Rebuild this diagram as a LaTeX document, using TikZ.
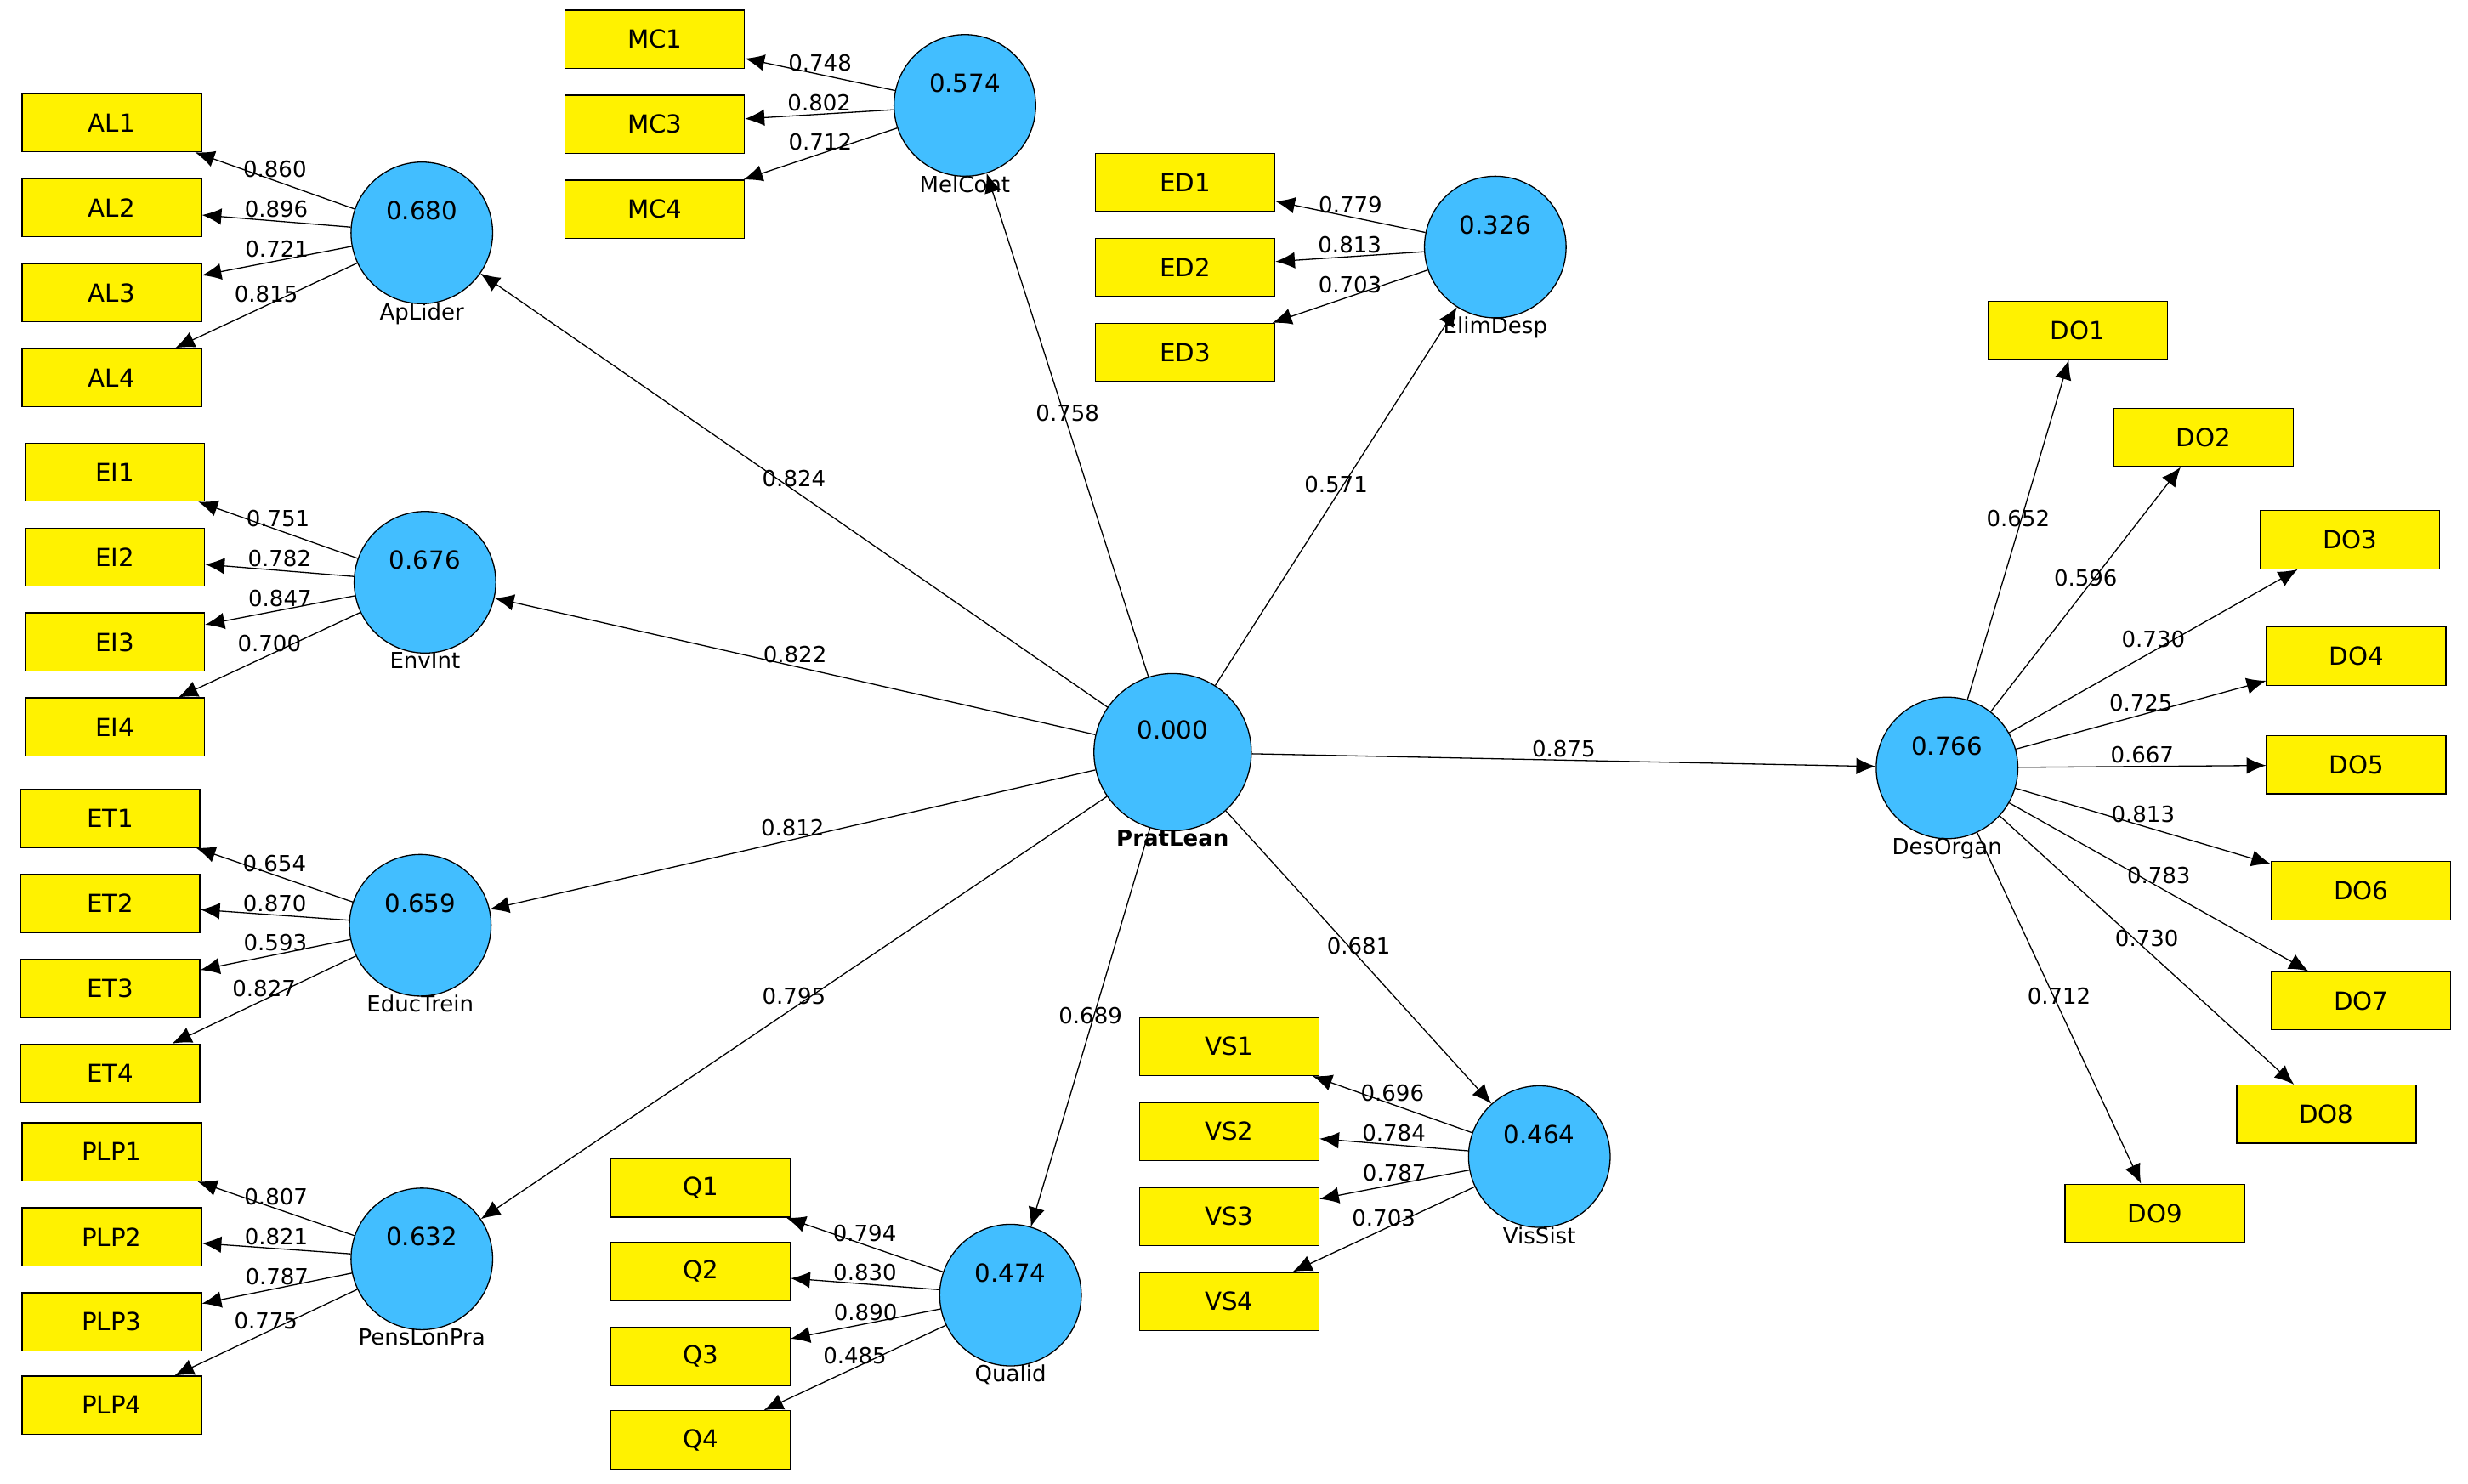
\documentclass[tikz,border=0pt]{standalone}
\usepackage{fontspec}
\setmainfont{DejaVu Sans}
\usetikzlibrary{arrows.meta}
\definecolor{lvblue}{RGB}{66,190,255}
\tikzset{
  lv/.style={circle,draw=black,fill=lvblue,minimum size=1.8cm,inner sep=0pt},
  ind/.style={draw=black,fill=yellow,minimum width=2.28cm,minimum height=0.74cm,font=\small},
  arr/.style={-{Latex[length=7pt,width=6pt]},black},
  lbl/.style={midway,above,inner sep=1pt,font=\footnotesize},
}
\begin{document}
\begin{tikzpicture}[x=0.02cm,y=-0.02cm]
	\useasboundingbox (0,0) rectangle (1568,943);
	% latent variables
	\foreach \n/\xx/\yy/\v in {ApLider/268/148/0.680, EnvInt/270/370/0.676, EducTrein/267/588/0.659,
	  PensLonPra/268/800/0.632, MelCont/613/67/0.574, ElimDesp/950/157/0.326,
	  Qualid/642/823/0.474, VisSist/978/735/0.464, DesOrgan/1237/488/0.766}
	  \node[lv,label={[yshift=8pt,font=\small]center:\v},label={[yshift=4pt,font=\footnotesize]below:\n}] (\n) at (\xx,\yy) {};
	\node[lv,minimum size=2cm,label={[yshift=8pt,font=\small]center:0.000},label={[yshift=4pt,font=\footnotesize\bfseries]below:PratLean}] (PratLean) at (745,478) {};
	% structural paths
	\foreach \t/\v in {ApLider/0.824, EnvInt/0.822, EducTrein/0.812, PensLonPra/0.795,
	  MelCont/0.758, ElimDesp/0.571, Qualid/0.689, VisSist/0.681, DesOrgan/0.875}
	  \draw[arr] (PratLean) -- (\t) node[lbl] {\v};
	% indicators
	\foreach \l/\n/\xx/\yy/\v in {ApLider/AL1/71/78/0.860, ApLider/AL2/71/132/0.896, ApLider/AL3/71/186/0.721, ApLider/AL4/71/240/0.815,
	  EnvInt/EI1/73/300/0.751, EnvInt/EI2/73/354/0.782, EnvInt/EI3/73/408/0.847, EnvInt/EI4/73/462/0.700,
	  EducTrein/ET1/70/520/0.654, EducTrein/ET2/70/574/0.870, EducTrein/ET3/70/628/0.593, EducTrein/ET4/70/682/0.827,
	  PensLonPra/PLP1/71/732/0.807, PensLonPra/PLP2/71/786/0.821, PensLonPra/PLP3/71/840/0.787, PensLonPra/PLP4/71/893/0.775,
	  MelCont/MC1/416/25/0.748, MelCont/MC3/416/79/0.802, MelCont/MC4/416/133/0.712,
	  ElimDesp/ED1/753/116/0.779, ElimDesp/ED2/753/170/0.813, ElimDesp/ED3/753/224/0.703,
	  Qualid/Q1/445/755/0.794, Qualid/Q2/445/808/0.830, Qualid/Q3/445/862/0.890, Qualid/Q4/445/915/0.485,
	  VisSist/VS1/781/665/0.696, VisSist/VS2/781/719/0.784, VisSist/VS3/781/773/0.787, VisSist/VS4/781/827/0.703,
	  DesOrgan/DO1/1320/210/0.652, DesOrgan/DO2/1400/278/0.596, DesOrgan/DO3/1493/343/0.730,
	  DesOrgan/DO4/1497/417/0.725, DesOrgan/DO5/1497/486/0.667, DesOrgan/DO6/1500/566/0.813,
	  DesOrgan/DO7/1500/636/0.783, DesOrgan/DO8/1478/708/0.730, DesOrgan/DO9/1369/771/0.712}
	{
	  \node[ind] (\n) at (\xx,\yy) {\n};
	  \draw[arr] (\l) -- (\n) node[lbl] {\v};
	}
\end{tikzpicture}
\end{document}
